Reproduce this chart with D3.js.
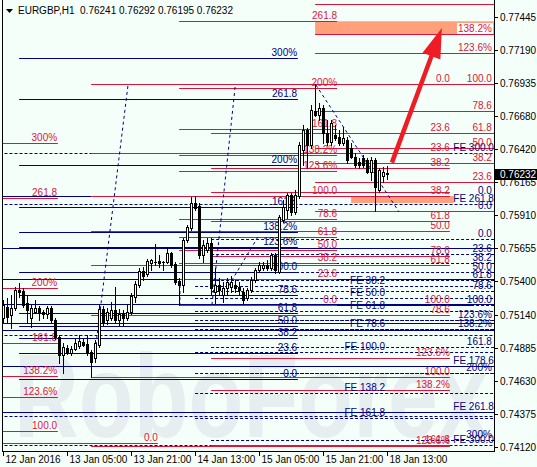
<!DOCTYPE html>
<html><head><meta charset="utf-8">
<script src="https://cdn.jsdelivr.net/npm/d3@7"></script>
<style>body{margin:0;background:#f5fffa;} svg{display:block;}</style>
</head><body>
<svg id="c" width="537" height="467"></svg>
<script>
// ---------- DATA ----------
const symbol = "EURGBP,H1";
const lastQuote = [0.76241, 0.76292, 0.76195, 0.76232];
const timeLabels = ["12 Jan 2016","13 Jan 05:00","13 Jan 21:00","14 Jan 13:00","15 Jan 05:00","15 Jan 21:00","18 Jan 13:00"];
const timeTickBars = [0,16,32,48,64,80,96];
const priceTicks = [0.77445,0.77190,0.76935,0.76680,0.76420,0.76165,0.75910,0.75655,0.75400,0.75140,0.74885,0.74630,0.74375,0.74120];

// hourly candles [open, high, low, close]
const candles = [
[0.75116,0.75255,0.75085,0.75216],[0.75201,0.75271,0.75077,0.75124],[0.75139,0.75294,0.75039,0.75193],
[0.75193,0.75356,0.75178,0.75333],[0.75333,0.75387,0.75279,0.75318],[0.75325,0.75348,0.75201,0.75216],
[0.75232,0.75294,0.75085,0.75178],[0.75116,0.75216,0.75047,0.75193],[0.75163,0.75255,0.75155,0.75193],
[0.75193,0.75208,0.75100,0.75163],[0.75163,0.75178,0.75116,0.75147],[0.75147,0.75208,0.75116,0.75193],
[0.75193,0.75208,0.75085,0.75100],[0.75100,0.75116,0.74953,0.74969],[0.74969,0.74984,0.74768,0.74830],
[0.74830,0.74922,0.74690,0.74892],[0.74884,0.74907,0.74837,0.74853],[0.74845,0.74899,0.74830,0.74876],
[0.74876,0.74953,0.74868,0.74922],[0.74899,0.74984,0.74884,0.74938],[0.74930,0.74953,0.74899,0.74907],
[0.74915,0.74984,0.74830,0.74853],[0.74853,0.74868,0.74657,0.74775],[0.74807,0.74946,0.74775,0.74922],
[0.74907,0.75216,0.74892,0.75185],[0.75185,0.75208,0.75062,0.75085],[0.75100,0.75193,0.75069,0.75163],
[0.75116,0.75240,0.75100,0.75178],[0.75178,0.75356,0.75085,0.75100],[0.75100,0.75185,0.75062,0.75147],
[0.75155,0.75178,0.75062,0.75116],[0.75116,0.75216,0.75100,0.75163],[0.75163,0.75310,0.75147,0.75286],
[0.75279,0.75402,0.75240,0.75379],[0.75371,0.75503,0.75356,0.75480],[0.75480,0.75511,0.75410,0.75441],
[0.75456,0.75572,0.75441,0.75557],[0.75542,0.75572,0.75487,0.75565],[0.75550,0.75689,0.75526,0.75548],
[0.75557,0.75603,0.75511,0.75542],[0.75550,0.75557,0.75487,0.75552],[0.75550,0.75665,0.75542,0.75619],
[0.75619,0.75627,0.75511,0.75526],[0.75534,0.75550,0.75379,0.75395],[0.75402,0.75426,0.75216,0.75371],
[0.75371,0.75735,0.75318,0.75719],[0.75719,0.75836,0.75704,0.75820],[0.75813,0.76052,0.75797,0.76006],
[0.76006,0.76060,0.75952,0.75967],[0.75982,0.76006,0.75580,0.75603],[0.75603,0.75719,0.75550,0.75681],
[0.75642,0.75735,0.75627,0.75696],[0.75696,0.75735,0.75294,0.75348],[0.75318,0.75503,0.75230,0.75371],
[0.75371,0.75426,0.75294,0.75333],[0.75294,0.75395,0.75240,0.75348],[0.75348,0.75426,0.75294,0.75395],
[0.75356,0.75441,0.75318,0.75395],[0.75371,0.75410,0.75318,0.75348],[0.75356,0.75395,0.75294,0.75333],
[0.75318,0.75348,0.75232,0.75255],[0.75271,0.75348,0.75255,0.75333],[0.75333,0.75434,0.75318,0.75410],
[0.75410,0.75503,0.75395,0.75487],[0.75487,0.75550,0.75472,0.75526],[0.75503,0.75550,0.75487,0.75526],
[0.75526,0.75565,0.75487,0.75503],[0.75503,0.75619,0.75487,0.75603],[0.75603,0.75619,0.75464,0.75487],
[0.75472,0.75913,0.75464,0.75897],[0.75874,0.76029,0.75859,0.75975],[0.75952,0.76083,0.75890,0.76068],
[0.76068,0.76083,0.75913,0.75936],[0.75936,0.76106,0.75921,0.76068],[0.76060,0.76478,0.76045,0.76455],
[0.76416,0.76609,0.76300,0.76571],[0.76571,0.76586,0.76277,0.76455],[0.76455,0.76764,0.76432,0.76725],
[0.76718,0.76924,0.76679,0.76687],[0.76687,0.76780,0.76648,0.76741],[0.76741,0.76764,0.76470,0.76548],
[0.76548,0.76648,0.76455,0.76478],[0.76478,0.76648,0.76455,0.76625],[0.76532,0.76609,0.76493,0.76509],
[0.76517,0.76571,0.76455,0.76470],[0.76470,0.76594,0.76455,0.76509],[0.76493,0.76517,0.76316,0.76339],
[0.76432,0.76470,0.76354,0.76362],[0.76362,0.76393,0.76285,0.76300],[0.76323,0.76354,0.76277,0.76300],
[0.76354,0.76377,0.76285,0.76300],[0.76339,0.76354,0.76238,0.76246],[0.76246,0.76362,0.76184,0.76339],
[0.76339,0.76354,0.75940,0.76129],[0.76106,0.76277,0.76091,0.76261],[0.76215,0.76285,0.76168,0.76246],
[0.76241,0.76292,0.76195,0.76232]
];

// Fibonacci level groups: [price, label]; spans are [fromBar, toBar]; label anchored at labelBar
const redA = [[0.76468,"300%"],[0.76042,"261.8"],[0.75350,"200%"],[0.74925,"161.8"],[0.74667,"138.2%"],[0.74502,"123.6%"],[0.74244,"100.0"]];
const redASpan = [-1, 13.6], redALabelBar = 13.4;
const redB = [[0.74146,"0.0"]];
const redBSpan = [-1, 38.6], redBLabelBar = 38.6;
const redC = [[0.76924,"0.0"],[0.76390,"23.6"],[0.76058,"38.2"],[0.75791,"50.0"],[0.75523,"61.8"],[0.75142,"78.6"],[0.74657,"100.0"],[0.74122,"123.6%"]];
const redCSpan = [21.9, 111.6], redCLabelBar = 111.6;
const redD = [[0.77412,"261.8"],[0.76893,"200%"],[0.76582,"161.8"],[0.76381,"138.2%"],[0.76257,"123.6%"],[0.76060,"100.0"],[0.75881,"78.6"],[0.75739,"61.8"],[0.75639,"50.0"],[0.75538,"38.2"],[0.75415,"23.6"],[0.75216,"0.0"]];
const redDSpan = [43.9, 83.4], redDLabelBar = 83.4;
const redE = [[0.76550,"23.6"],[0.76273,"38.2"],[0.76087,""],[0.75870,"61.8"],[0.75596,"78.6"],[0.75216,"100.0"],[0.74804,"123.6%"],[0.74559,"138.2%"],[0.74137,"161.8"]];
const redESpan = [51.9, 111.6], redELabelBar = 111.6;
const redF = [[0.77543,""],[0.77311,"138.2%"],[0.77163,"123.6%"],[0.76924,"100.0"],[0.76715,"78.6"],[0.76550,"61.8"],[0.76435,"50.0"],[0.76319,"38.2"],[0.76172,"23.6"],[0.75940,""]];
const redFSpan = [77.9, 122.75], redFLabelBar = 122.1;

const navyA = [[0.77125,"300%"],[0.76808,"261.8"],[0.76300,"200%"],[0.75977,"161.8"],[0.75784,"138.2%"],[0.75664,"123.6%"],[0.75469,"100.0"],[0.75294,"78.6"],[0.75155,"61.8"],[0.75056,"50.0"],[0.74959,"38.2"],[0.74847,"23.6"],[0.74642,"0.0"]];
const navyASpan = [3.9, 73.6], navyALabelBar = 73.4;
const navyB = [[0.75661,""],[0.75415,""],[0.75222,""],[0.75075,""],[0.75023,""],[0.74744,"FE 178.6"],[0.74391,"FE 261.8"]];
const navyBSpan = [-1, 122.75], navyBLabelBar = 122.6;
const navyBShort = [[0.76060,""]];
const navyBShortSpan = [-1, 21.9];
const navyC = [[0.76390,"FE 300.0"],[0.75996,"FE 261.8"],[0.74982,""],[0.74358,""],[0.74131,"FE 300.0"]];
const navyCSpan = [-1, 122.75], navyCLabelBar = 122.6;
const navyD = [[0.75360,"FE 38.2"],[0.75271,"FE 50.0"],[0.75172,"FE 61.8"],[0.75100,""],[0.75028,"FE 78.6"],[0.74850,"FE 100.0"],[0.74688,""],[0.74533,"FE 138.2"],[0.74340,"FE 161.8"]];
const navyDSpan = [47.9, 122.75], navyDLabelBar = 95.4;
const navyE = [[0.75725,"0.0"],[0.75609,"23.6"],[0.75539,"38.2"],[0.75470,"50.0"],[0.75411,"61.8"],[0.75326,"78.6"],[0.75216,"100.0"],[0.75100,"123.6%"],[0.75028,"138.2%"],[0.74889,"161.8"],[0.74688,"200%"],[0.74172,"300%"]];
const navyESpan = [51.9, 122.75], navyELabelBar = 122.1;
const navySeg = [[0.75216,""]];
const navySegSpan = [83.4, 117.6];
const navyExtraLabels = [[0.76062,"0.0"],[0.75940,"0.0"]];

// target zones [fromBar, toBar, priceTop, priceBottom]
const zones = [[77.9, 122.6, 0.77412, 0.77311],[86.9, 112.6, 0.76060, 0.76006]];
// dashed connector lines [bar1, price1, bar2, price2]
const connectors = [[31.1,0.76911,23.1,0.74907],[57.9,0.76903,52.1,0.75216],[63.6,0.75743,56.1,0.75356],[78.1,0.76919,98.9,0.75936],[44.1,0.75371,44.1,0.75216]];
// forecast arrow [tailBar, tailPrice, tipBar, tipPrice]
const arrow = [97.1, 0.76318, 109.6, 0.77360];

// ---------- STYLE / LAYOUT ----------
const RED = "#dc143c", NAVY = "#000080", BG = "#f5fffa";
const FONT = "'Liberation Sans', Arial, sans-serif";
const svg = d3.select("#c");
const plotL = 3, plotR = 494, plotB = 451;
const x = d3.scaleLinear().domain([0, 122.75]).range([3.5, 494.5]);
const y = d3.scaleLinear().domain([0.74120, 0.77445]).range([446.7, 17]);
const py = p => Math.round(y(p)) + 0.5;

svg.append("rect").attr("width",537).attr("height",467).attr("fill",BG);
svg.append("defs").append("clipPath").attr("id","clip")
  .append("rect").attr("x",plotL).attr("y",0).attr("width",plotR-plotL).attr("height",plotB);

// watermark (background logo)
svg.append("text").attr("x",14).attr("y",437).attr("font-family",FONT).attr("font-size",118)
  .attr("font-weight","bold")
  .attr("textLength",474).attr("lengthAdjust","spacingAndGlyphs")
  .attr("fill","#e6eef0").text("RoboForex");

const g = svg.append("g").attr("clip-path","url(#clip)");

// zones
g.selectAll("rect.zone").data(zones).enter().append("rect").attr("class","zone")
  .attr("x",d=>x(d[0])).attr("width",d=>x(d[1])-x(d[0]))
  .attr("y",d=>y(d[2])).attr("height",d=>y(d[3])-y(d[2]))
  .attr("fill","#ffa07a");

const linesG = g.append("g");
const labelsG = g.append("g");
function levels(data, span, color, dash, labelBar) {
  linesG.append("g").selectAll("line").data(data).enter().append("line")
    .attr("x1", x(span[0])).attr("x2", x(span[1]))
    .attr("y1", d=>py(d[0])).attr("y2", d=>py(d[0]))
    .attr("stroke", color).attr("stroke-width",1)
    .attr("stroke-dasharray", dash || null);
  if (labelBar !== undefined) {
    labelsG.append("g").selectAll("text").data(data.filter(d=>d[1])).enter().append("text")
      .attr("x", x(labelBar)).attr("y", d=>Math.round(y(d[0]))-2)
      .attr("text-anchor", "end").attr("font-family",FONT).attr("font-size",10)
      .attr("fill", color).text(d=>d[1]);
  }
}

levels(navyB, navyBSpan, NAVY, null, navyBLabelBar);
levels(navyBShort, navyBShortSpan, NAVY, null);
levels(navyC, navyCSpan, NAVY, "3,2", navyCLabelBar);
levels(navyD, navyDSpan, NAVY, "3,2", navyDLabelBar);
levels(navyE, navyESpan, NAVY, "3,2", navyELabelBar);
levels(navyA, navyASpan, NAVY, null, navyALabelBar);
levels(redA, redASpan, RED, null, redALabelBar);
levels(redB, redBSpan, RED, null, redBLabelBar);
levels(redC, redCSpan, RED, null, redCLabelBar);
levels(redD, redDSpan, RED, null, redDLabelBar);
levels(redE, redESpan, RED, null, redELabelBar);
levels(redF, redFSpan, RED, null, redFLabelBar);
levels(navySeg, navySegSpan, NAVY, null);
labelsG.append("g").selectAll("text").data(navyExtraLabels).enter().append("text")
  .attr("x", x(122.1)).attr("y", d=>Math.round(y(d[0]))-2)
  .attr("text-anchor","end").attr("font-family",FONT).attr("font-size",10)
  .attr("fill",NAVY).text(d=>d[1]);

// white box behind the 138.2% target label
labelsG.selectAll("text").filter(function(){ return this.textContent==="138.2%" && +this.getAttribute("x")>480 && +this.getAttribute("y")<60; })
  .each(function(){ const b=this.getBBox();
    d3.select(this.parentNode).insert("rect",()=>this).attr("x",b.x-1).attr("y",b.y).attr("width",b.width+2).attr("height",b.height).attr("fill","#fff"); });

// connectors
g.selectAll("line.conn").data(connectors).enter().append("line")
  .attr("x1",d=>x(d[0])).attr("y1",d=>y(d[1])).attr("x2",d=>x(d[2])).attr("y2",d=>y(d[3]))
  .attr("stroke",NAVY).attr("stroke-dasharray","3,3").attr("stroke-width",1);

// candles
const cg = g.append("g");
candles.forEach((c,i)=>{
  const [o,h,l,cl] = c;
  const col = Math.floor(x(i));
  cg.append("line").attr("x1",col+0.5).attr("x2",col+0.5)
    .attr("y1",Math.round(y(h))).attr("y2",Math.round(y(l))+1).attr("stroke","#000");
  const top = Math.round(y(Math.max(o,cl))), bot = Math.round(y(Math.min(o,cl)));
  if (bot - top < 1) {
    cg.append("line").attr("x1",col-1).attr("x2",col+2).attr("y1",top+0.5).attr("y2",top+0.5).attr("stroke","#000");
  } else {
    cg.append("rect").attr("x",col-0.5).attr("y",top+0.5).attr("width",2).attr("height",bot-top)
      .attr("fill", cl>=o ? "#fff" : "#000").attr("stroke","#000");
  }
});

// arrow
{
  const x1=x(arrow[0]), y1=y(arrow[1]), x2=x(arrow[2]), y2=y(arrow[3]);
  const dx=x2-x1, dy=y2-y1, len=Math.hypot(dx,dy), ux=dx/len, uy=dy/len;
  const hl=30, hw=9.5;
  const bx=x2-ux*hl, by=y2-uy*hl;
  g.append("line").attr("x1",x1).attr("y1",y1).attr("x2",bx+ux*2).attr("y2",by+uy*2)
    .attr("stroke","#ee1c25").attr("stroke-width",4.5);
  g.append("path").attr("d",`M${x2},${y2}L${bx-uy*hw},${by+ux*hw}L${bx+uy*hw},${by-ux*hw}Z`).attr("fill","#ee1c25");
}

// frame / axes
svg.append("line").attr("x1",2.5).attr("x2",2.5).attr("y1",0).attr("y2",plotB+1).attr("stroke","#000");
svg.append("line").attr("x1",plotR+0.5).attr("x2",plotR+0.5).attr("y1",0).attr("y2",plotB+1).attr("stroke","#000");
svg.append("line").attr("x1",2).attr("x2",plotR+1).attr("y1",plotB+0.5).attr("y2",plotB+0.5).attr("stroke","#000");

const ya = svg.append("g");
priceTicks.forEach(v=>{
  const yy = py(v);
  ya.append("line").attr("x1",plotR+1).attr("x2",plotR+4).attr("y1",yy).attr("y2",yy).attr("stroke","#000");
  ya.append("text").attr("x",500).attr("y",yy).attr("dy","0.35em").attr("font-family",FONT).attr("font-size",10)
    .attr("fill","#000").text(v.toFixed(5));
});
{
  const yy = Math.round(y(lastQuote[3]));
  ya.append("rect").attr("x",plotR+1).attr("y",yy-5).attr("width",42).attr("height",11).attr("fill","#000");
  ya.append("text").attr("x",500).attr("y",yy+0.5).attr("dy","0.35em").attr("font-family",FONT).attr("font-size",10)
    .attr("fill","#fff").text(lastQuote[3].toFixed(5));
}
const xa = svg.append("g");
timeTickBars.forEach((b,i)=>{
  const xx = Math.floor(x(b))+0.5;
  xa.append("line").attr("x1",xx).attr("x2",xx).attr("y1",plotB).attr("y2",plotB+5).attr("stroke","#000");
  xa.append("text").attr("x",xx+2).attr("y",463).attr("font-family",FONT).attr("font-size",10)
    .attr("fill","#000").text(timeLabels[i]);
});

// header
svg.append("path").attr("d","M6,9L13,9L9.5,13Z").attr("fill","#000");
svg.append("text").attr("x",18).attr("y",14).attr("font-family",FONT).attr("font-size",10).attr("fill","#000")
  .style("white-space","pre")
  .text(symbol + "  " + lastQuote.map(v=>v.toFixed(5)).join(" "));
</script>
</body></html>
